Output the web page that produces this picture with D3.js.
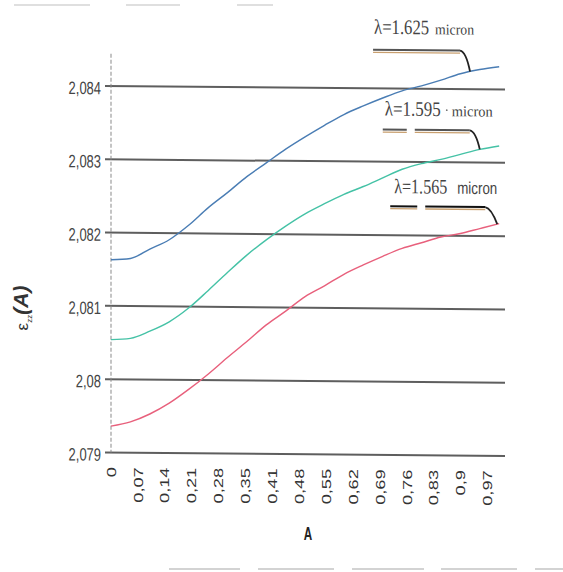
<!DOCTYPE html>
<html>
<head>
<meta charset="utf-8">
<script src="https://cdnjs.cloudflare.com/ajax/libs/d3/7.8.5/d3.min.js"></script>
<style>
  html, body { margin: 0; padding: 0; background: #fff; }
  svg { display: block; }
</style>
</head>
<body>
<div id="chart"></div>
<script>
// Sample positions along A (the x variable)
const aValues = [0, 0.05, 0.1, 0.15, 0.2, 0.25, 0.3, 0.35, 0.4, 0.45, 0.5,
                 0.55, 0.6, 0.65, 0.7, 0.75, 0.8, 0.85, 0.9, 0.95, 1.0];

// eps_zz(A) for each wavelength
const eps1625 = [2.08163, 2.08165, 2.08178, 2.08191, 2.08211, 2.08235, 2.08256, 2.08278, 2.08297, 2.08316, 2.08333,
                 2.08349, 2.08364, 2.08376, 2.08387, 2.08397, 2.08404, 2.08412, 2.08421, 2.08427, 2.08431];
const eps1595 = [2.08054, 2.08056, 2.08066, 2.08079, 2.08098, 2.08122, 2.08147, 2.08171, 2.08192, 2.08211, 2.08228,
                 2.08242, 2.08255, 2.08266, 2.08278, 2.08290, 2.08298, 2.08304, 2.08311, 2.08318, 2.08323];
const eps1565 = [2.07936, 2.07942, 2.07953, 2.07968, 2.07987, 2.08008, 2.08031, 2.08053, 2.08076, 2.08095, 2.08115,
                 2.08130, 2.08146, 2.08159, 2.08171, 2.08182, 2.08190, 2.08198, 2.08203, 2.08210, 2.08217];

const seriesNames = ["λ=1.625", "λ=1.595", "λ=1.565"];
const seriesColors = ["#4a7db4", "#45c2a6", "#e8607c"];
// A value where each callout's leader meets its curve
const calloutA = [0.925, 0.95, 0.995];

// Axis ticks
const yTicks = [2.079, 2.08, 2.081, 2.082, 2.083, 2.084];
const yTickLabels = ["2,079", "2,08", "2,081", "2,082", "2,083", "2,084"];
const xTickLabels = ["0", "0,07", "0,14", "0,21", "0,28", "0,35", "0,41", "0,48",
                     "0,55", "0,62", "0,69", "0,76", "0,83", "0,9", "0,97"];
const sampleStep = 0.97 / 98;   // one category step along A
const labelEvery = 7;           // a label every 7 samples

const W = 563, H = 572;
const svg = d3.select("#chart").append("svg").attr("width", W).attr("height", H);

// Faint paper edges at the top and bottom of the sheet
const edgeTop = [[14, 90], [126, 180], [237, 273]];
const edgeBottom = [[169, 240], [258, 334], [352, 424], [441, 517], [535, 563]];
svg.append("g").selectAll("line").data(edgeTop).join("line")
  .attr("x1", d => d[0]).attr("x2", d => d[1]).attr("y1", 5).attr("y2", 5)
  .attr("stroke", "#d4d4d4").attr("stroke-width", 1.5);
svg.append("g").selectAll("line").data(edgeBottom).join("line")
  .attr("x1", d => d[0]).attr("x2", d => d[1]).attr("y1", 569).attr("y2", 569)
  .attr("stroke", "#c4c4c4").attr("stroke-width", 1.5);

const x = d3.scaleLinear().domain([0, 1.015]).range([111, 505]);
const y = d3.scaleLinear().domain([2.079, 2.08444]).range([452.5, 53.8]);

// The whole figure sits on a very slight slant
const x0 = x(0);
const g = svg.append("g")
  .attr("transform", `translate(${x0},0) skewY(0.51) translate(${-x0},0)`);

// Horizontal gridlines (including the baseline)
g.append("g").selectAll("line").data(yTicks).join("line")
  .attr("x1", x(0) - 6).attr("x2", x(1.015))
  .attr("y1", d => y(d)).attr("y2", d => y(d))
  .attr("stroke", "#5e5e5e").attr("stroke-width", 2);

// Vertical axis: a thin dashed line
g.append("line")
  .attr("x1", x(0)).attr("x2", x(0))
  .attr("y1", y(2.08444)).attr("y2", y(2.079))
  .attr("stroke", "#8a8a8a").attr("stroke-width", 1)
  .attr("stroke-dasharray", "4,2");

// Y tick labels (narrow)
g.append("g").selectAll("text").data(yTicks).join("text")
  .attr("transform", d => `translate(101,${y(d) + 2}) scale(0.72,1)`)
  .attr("text-anchor", "end").attr("dy", "0.35em")
  .style("font-family", "'Liberation Sans', Arial, sans-serif")
  .style("font-size", "18px").attr("fill", "#444")
  .text((d, i) => yTickLabels[i]);

// X tick labels (rotated)
g.append("g").selectAll("text").data(xTickLabels).join("text")
  .attr("transform", (d, i) => `translate(${x(i * labelEvery * sampleStep)},467) rotate(-90) scale(1.4,1)`)
  .attr("text-anchor", "end").attr("dy", "0.36em")
  .style("font-family", "'Liberation Sans', Arial, sans-serif")
  .style("font-size", "13px").attr("fill", "#333")
  .text(d => d);

// Curves
const allSeries = [eps1625, eps1595, eps1565];
const line = d3.line()
  .x(d => x(d.a)).y(d => y(d.v))
  .curve(d3.curveMonotoneX);

allSeries.forEach((vals, i) => {
  const pts = aValues.map((a, j) => ({ a, v: vals[j] }));
  g.append("path").datum(pts)
    .attr("d", line)
    .attr("fill", "none")
    .attr("stroke", seriesColors[i])
    .attr("stroke-width", 1.4);
});

// Callouts: label, double bar and leader that touches the curve
const interp = (vals, a) => {
  const k = Math.min(aValues.length - 2, Math.floor(a / 0.05));
  const t = (a - aValues[k]) / (aValues[k + 1] - aValues[k]);
  return vals[k] + t * (vals[k + 1] - vals[k]);
};

const callouts = g.append("g");
const serif = "'Liberation Serif', 'Times New Roman', serif";
const sans = "'Liberation Sans', Arial, sans-serif";

const callSpec = [
  { dx0: -97, dx1: -10, dy: -21, split: null, textX: -96, textDy: -37, nameLen: 55, unitX: -35, unitLen: 39, unitSize: 15, unitFont: serif, dot: false, bar: "#555" },
  { dx0: -97, dx1: -10, dy: -19, split: [-73, -65], textX: -95, textDy: -33, nameLen: 56, unitX: -28, unitLen: 41, unitSize: 15, unitFont: serif, dot: true, bar: "#555" },
  { dx0: -107, dx1: -12, dy: -17, split: [-80, -72], textX: -103, textDy: -30, nameLen: 53, unitX: -40, unitLen: 40, unitSize: 17, unitFont: sans, dot: false, bar: "#111" }
];

allSeries.forEach((vals, i) => {
  const ex = x(calloutA[i]);
  const ey = y(interp(vals, calloutA[i]));
  const s = callSpec[i];
  const by = ey + s.dy;
  const segs = s.split
    ? [[ex + s.dx0, ex + s.split[0]], [ex + s.split[1], ex + s.dx1]]
    : [[ex + s.dx0, ex + s.dx1]];
  segs.forEach(([a, b]) => {
    callouts.append("line").attr("x1", a).attr("x2", b).attr("y1", by).attr("y2", by)
      .attr("stroke", s.bar).attr("stroke-width", 2);
    callouts.append("line").attr("x1", a).attr("x2", b).attr("y1", by + 2.5).attr("y2", by + 2.5)
      .attr("stroke", "#c9a070").attr("stroke-width", 1.3);
  });
  callouts.append("path")
    .attr("d", `M${ex + s.dx1},${by} Q${ex + s.dx1 + 6},${by + 1} ${ex},${ey}`)
    .attr("fill", "none").attr("stroke", "#222").attr("stroke-width", 1.8);

  const ty = ey + s.textDy;
  // condensed, tall serif label
  callouts.append("text")
    .attr("transform", `translate(${ex + s.textX},${ty}) scale(1,1.22)`)
    .attr("textLength", s.nameLen).attr("lengthAdjust", "spacingAndGlyphs")
    .style("font-family", serif).style("font-size", "17px").attr("fill", "#444")
    .text(seriesNames[i]);
  if (s.dot) {
    callouts.append("circle").attr("cx", ex + s.unitX - 5).attr("cy", ty - 6)
      .attr("r", 0.9).attr("fill", "#777");
  }
  callouts.append("text")
    .attr("x", ex + s.unitX).attr("y", ty)
    .attr("textLength", s.unitLen).attr("lengthAdjust", "spacingAndGlyphs")
    .style("font-family", s.unitFont).style("font-size", s.unitSize + "px").attr("fill", "#444")
    .text("micron");
});

// Axis titles
svg.append("text")
  .attr("transform", "translate(308,540) scale(0.65,1)")
  .attr("text-anchor", "middle")
  .style("font-family", sans).style("font-size", "18px").style("font-weight", "bold")
  .attr("fill", "#222")
  .text("A");

const yTitle = svg.append("text")
  .attr("transform", "translate(28,308) rotate(-90)")
  .attr("text-anchor", "middle")
  .attr("fill", "#333");
yTitle.append("tspan").style("font-family", sans).style("font-size", "17px").text("ε");
yTitle.append("tspan").style("font-family", sans).style("font-size", "8px")
  .attr("dy", "4").text("zz");
yTitle.append("tspan").style("font-family", sans).style("font-size", "21px")
  .style("font-weight", "bold").style("font-style", "italic")
  .attr("dy", "-4").text("(A)");
</script>
</body>
</html>
